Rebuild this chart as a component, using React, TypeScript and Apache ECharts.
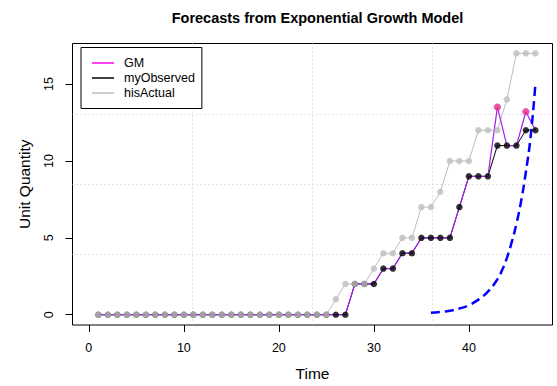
import React, { useEffect, useRef } from "react";
import * as echarts from "echarts";

// Observed series (time index 1..47)
const hisActual = [
  0, 0, 0, 0, 0, 0, 0, 0, 0, 0,
  0, 0, 0, 0, 0, 0, 0, 0, 0, 0,
  0, 0, 0, 0, 0, 1, 2, 2, 2, 3,
  4, 4, 5, 5, 7, 7, 8, 10, 10, 10,
  12, 12, 12, 14, 17, 17, 17,
];
const myObserved = [
  0, 0, 0, 0, 0, 0, 0, 0, 0, 0,
  0, 0, 0, 0, 0, 0, 0, 0, 0, 0,
  0, 0, 0, 0, 0, 0, 0, 2, 2, 2,
  3, 3, 4, 4, 5, 5, 5, 5, 7, 9,
  9, 9, 11, 11, 11, 12, 12,
];
const gmFitted = [
  0, 0, 0, 0, 0, 0, 0, 0, 0, 0,
  0, 0, 0, 0, 0, 0, 0, 0, 0, 0,
  0, 0, 0, 0, 0, 0, 0, 2, 2, 2,
  3, 3, 4, 4, 5, 5, 5, 5, 7, 9,
  9, 9, 13.5, 11, 11, 13.2, 12,
];
// Exponential growth forecast curve
const forecastTime = [36, 37, 38, 39, 40, 41, 42, 43, 43.5, 44, 44.5, 45, 45.5, 46, 46.5, 47];
const forecastValue = [0.12, 0.18, 0.26, 0.4, 0.62, 0.98, 1.5, 2.3, 2.9, 3.7, 4.7, 5.9, 7.4, 9.3, 11.6, 15.0];

const xTicks = [0, 10, 20, 30, 40];
const yTicks = [0, 5, 10, 15];

const FONT = "'Liberation Sans', Arial, sans-serif";

export default function App() {
  const ref = useRef<HTMLDivElement>(null);

  useEffect(() => {
    document.body.style.margin = "0";
    if (!ref.current) return;
    const chart = echarts.init(ref.current, null, { renderer: "svg" });

    const time = hisActual.map((_, i) => i + 1);
    const hisData = time.map((t, i) => [t, hisActual[i]]);
    const obsData = time.map((t, i) => [t, myObserved[i]]);
    const gmData = time.map((t, i) => [t, gmFitted[i]]);
    const gmDiff = time
      .map((t, i) => (gmFitted[i] !== myObserved[i] ? [t, gmFitted[i]] : null))
      .filter((d) => d !== null);
    const fcData = forecastTime.map((t, i) => [t, forecastValue[i]]);

    const gridLineStyle = { color: "#c8c8c8", type: [1, 3] as any, width: 1 };

    chart.setOption({
      animation: false,
      backgroundColor: "#ffffff",
      textStyle: { fontFamily: FONT },
      title: {
        text: "Forecasts from Exponential Growth Model",
        left: 312.5,
        textAlign: "center",
        top: 5,
        textStyle: { fontSize: 14.5, fontWeight: "bold", color: "#000", fontFamily: FONT },
      },
      grid: {
        left: 72.5,
        right: 4.5,
        top: 43.5,
        bottom: 61,
        show: true,
        borderColor: "#000",
        borderWidth: 1,
        backgroundColor: "#fff",
      },
      legend: {
        orient: "vertical",
        left: 81,
        top: 47.5,
        icon: "rect",
        itemWidth: 22,
        itemHeight: 1.5,
        itemGap: 0,
        padding: [8, 7, 8, 11],
        borderColor: "#000",
        borderWidth: 1,
        borderRadius: 0,
        backgroundColor: "#fff",
        textStyle: { fontSize: 12.5, color: "#000", fontFamily: FONT, padding: [0, 0, 0, 5], lineHeight: 15 },
        data: [
          { name: "GM", icon: "rect", itemStyle: { color: "#ff00ff" } },
          { name: "myObserved", icon: "rect", itemStyle: { color: "#000" } },
          { name: "hisActual", icon: "rect", itemStyle: { color: "#bebebe" } },
        ],
      },
      xAxis: [
        {
          type: "value",
          min: -1.72,
          max: 48.8,
          name: "Time",
          nameLocation: "middle",
          nameGap: 40,
          nameTextStyle: { fontSize: 15.5, color: "#000", fontFamily: FONT },
          axisLine: { show: false, onZero: false },
          axisTick: { show: true, customValues: xTicks, length: 7, lineStyle: { color: "#000" } },
          axisLabel: { customValues: xTicks, fontSize: 12.5, color: "#000", margin: 16, fontFamily: FONT },
          splitLine: { show: false },
        },
        {
          type: "value",
          min: 0,
          max: 4,
          interval: 1,
          position: "top",
          axisLine: { show: false, onZero: false },
          axisTick: { show: false },
          axisLabel: { show: false },
          splitLine: { show: true, showMinLine: false, showMaxLine: false, lineStyle: gridLineStyle },
        },
      ],
      yAxis: [
        {
          type: "value",
          min: -0.67,
          max: 17.64,
          name: "Unit Quantity",
          nameLocation: "middle",
          nameGap: 40,
          nameRotate: 90,
          nameTextStyle: { fontSize: 15.5, color: "#000", fontFamily: FONT },
          axisLine: { show: false, onZero: false },
          axisTick: { show: true, customValues: yTicks, length: 7, lineStyle: { color: "#000" } },
          axisLabel: { customValues: yTicks, rotate: 90, fontSize: 12.5, color: "#000", margin: 17, fontFamily: FONT },
          splitLine: { show: false },
        },
        {
          type: "value",
          min: 0,
          max: 4,
          interval: 1,
          position: "right",
          axisLine: { show: false, onZero: false },
          axisTick: { show: false },
          axisLabel: { show: false },
          splitLine: { show: true, showMinLine: false, showMaxLine: false, lineStyle: gridLineStyle },
        },
      ],
      series: [
        {
          name: "myObserved",
          type: "line",
          data: obsData,
          symbol: "none",
          lineStyle: { color: "#000", width: 1 },
          itemStyle: { color: "#000" },
          z: 2,
        },
        {
          name: "hisActual",
          type: "line",
          data: hisData,
          symbol: "none",
          lineStyle: { color: "#bebebe", width: 1 },
          itemStyle: { color: "#bebebe" },
          z: 2,
        },
        {
          name: "GM",
          type: "line",
          data: gmData,
          symbol: "none",
          lineStyle: { color: "#a020f0", width: 1.2 },
          itemStyle: { color: "#ff00ff" },
          z: 3,
        },
        {
          name: "myObservedPoints",
          type: "scatter",
          data: obsData,
          symbol: "circle",
          symbolSize: 6.5,
          itemStyle: { color: "#000" },
          z: 4,
        },
        {
          name: "hisActualPoints",
          type: "scatter",
          data: hisData,
          symbol: "circle",
          symbolSize: 6.5,
          itemStyle: { color: "#bebebe" },
          z: 5,
        },
        {
          name: "GMPoints",
          type: "scatter",
          data: gmDiff,
          symbol: "circle",
          symbolSize: 6.5,
          itemStyle: { color: "#ee2d73", borderColor: "#e040e0", borderWidth: 1 },
          z: 6,
        },
        {
          name: "Forecast",
          type: "line",
          data: fcData,
          symbol: "none",
          smooth: true,
          lineStyle: { color: "#0000ff", width: 2.5, type: [9, 5] as any },
          z: 7,
        },
      ],
    });

    return () => chart.dispose();
  }, []);

  return <div ref={ref} style={{ width: 557, height: 386 }} />;
}
